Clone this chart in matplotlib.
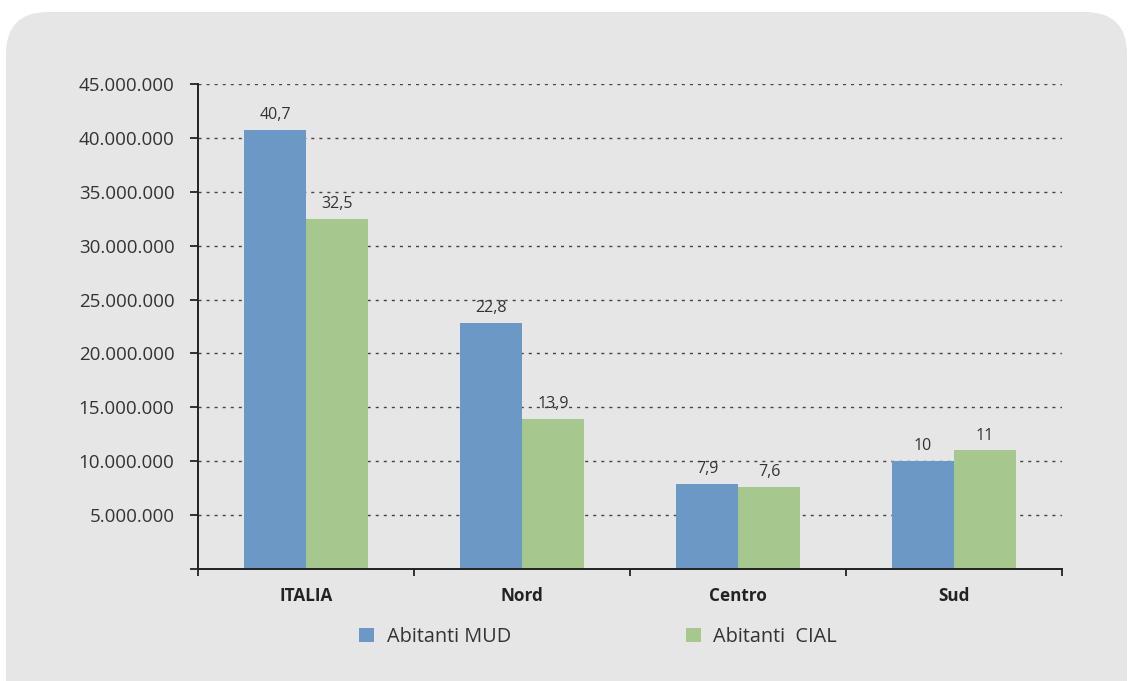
import matplotlib
matplotlib.use("Agg")
import matplotlib.pyplot as plt
import matplotlib.patches as mpatches
from matplotlib.ticker import FuncFormatter, FixedLocator
import numpy as np

categories = ["ITALIA", "Nord", "Centro", "Sud"]
abitanti_mud = [40.7e6, 22.8e6, 7.9e6, 10.0e6]
abitanti_cial = [32.5e6, 13.9e6, 7.6e6, 11.0e6]
series_names = ["Abitanti MUD", "Abitanti  CIAL"]
colors = ["#6b98c4", "#a6c78d"]

plt.rcParams['font.family'] = ['Open Sans', 'DejaVu Sans']
TXT = "#333333"

fig = plt.figure(figsize=(11.29, 6.81), dpi=100)
fig.patch.set_facecolor("white")

panel = mpatches.FancyBboxPatch((6, -40), 1121, 669 + 40,
                                boxstyle="round,pad=0,rounding_size=42",
                                transform=None, facecolor="#e6e6e6",
                                edgecolor="none", zorder=-10)
fig.add_artist(panel)

ax = fig.add_axes([198/1129, 1-569/681, (1062-198)/1129, (569-84)/681])
ax.set_facecolor("none")

x = np.arange(len(categories))
w = 0.287
b1 = ax.bar(x - w/2, abitanti_mud, w, color=colors[0], zorder=3, label=series_names[0])
b2 = ax.bar(x + w/2, abitanti_cial, w, color=colors[1], zorder=3, label=series_names[1])

def fmt_label(v):
    m = v / 1e6
    s = f"{m:.1f}".replace(".", ",")
    if s.endswith(",0"):
        s = s[:-2]
    return s

for bars, vals in ((b1, abitanti_mud), (b2, abitanti_cial)):
    for rect, v in zip(bars, vals):
        ax.annotate(fmt_label(v), (rect.get_x() + rect.get_width()/2, v),
                    xytext=(0, 5), textcoords="offset points",
                    ha="center", va="bottom", fontsize=11.5, color=TXT)

ax.set_xlim(-0.5, len(categories) - 0.5)
ax.set_ylim(0, 45e6)

yt = np.arange(0, 45e6 + 1, 5e6)
ax.yaxis.set_major_locator(FixedLocator(yt))
ax.yaxis.set_major_formatter(FuncFormatter(
    lambda v, p: "" if v == 0 else f"{int(round(v)):,}".replace(",", ".")))
ax.tick_params(axis="y", direction="out", length=6, width=1.3, color="#222222",
               labelsize=13.5, labelcolor=TXT, pad=11)

ax.set_xticks(x)
ax.set_xticklabels(categories, fontweight="bold", fontsize=12.3, color="#222222")
ax.tick_params(axis="x", which="major", length=0, pad=13)
ax.set_xticks(np.arange(-0.5, len(categories)), minor=True)
ax.tick_params(axis="x", which="minor", direction="out", length=5, width=1.3, color="#222222")

for v in yt[1:]:
    ax.axhline(v, color="#444444", lw=1.0, linestyle=(0, (2.2, 3.6)), zorder=1)

for s in ("top", "right"):
    ax.spines[s].set_visible(False)
for s in ("left", "bottom"):
    ax.spines[s].set_color("#222222")
    ax.spines[s].set_linewidth(1.4)
    ax.spines[s].set_zorder(4)

leg = fig.legend(handles=[b1, b2], labels=series_names, loc="center",
                 bbox_to_anchor=(598/1129, 1-637/681), ncol=2, frameon=False,
                 fontsize=14.3, handlelength=0.75, handleheight=0.75,
                 handletextpad=0.65, columnspacing=8.8)
for t in leg.get_texts():
    t.set_color(TXT)

fig.savefig("out.png", dpi=100, facecolor="white")
